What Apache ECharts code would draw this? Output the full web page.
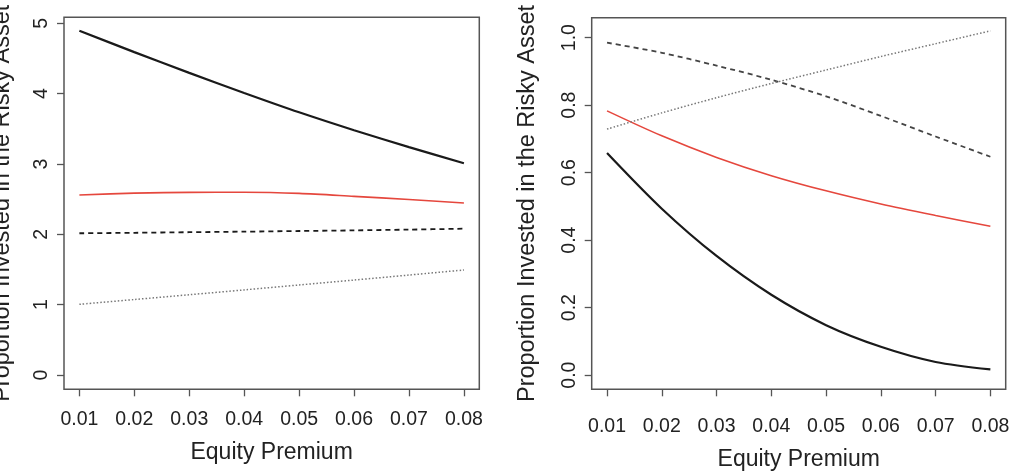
<!DOCTYPE html>
<html>
<head>
<meta charset="utf-8">
<script src="https://cdn.jsdelivr.net/npm/echarts@6/dist/echarts.min.js"></script>
<style>
html,body{margin:0;padding:0;background:#fff;}
#chart{width:1013px;height:473px;}
</style>
</head>
<body>
<div id="chart"></div>
<script>
// ---- data ----
const premium = [0.01, 0.02, 0.03, 0.04, 0.05, 0.06, 0.07, 0.08];
const xTickValues = [0.01, 0.02, 0.03, 0.04, 0.05, 0.06, 0.07, 0.08];
const leftYTicks = [0, 1, 2, 3, 4, 5];
const rightYTicks = [0.0, 0.2, 0.4, 0.6, 0.8, 1.0];

// left panel
const leftSolid  = [4.895, 4.590, 4.295, 4.010, 3.735, 3.480, 3.240, 3.010];
const leftRed    = [2.560, 2.585, 2.597, 2.598, 2.582, 2.540, 2.495, 2.445];
const leftDashed = [2.015, 2.022, 2.030, 2.038, 2.047, 2.056, 2.067, 2.080];
const leftDotted = [1.005, 1.073, 1.141, 1.210, 1.280, 1.350, 1.421, 1.493];

// right panel
const rightSolid  = [0.658, 0.493, 0.353, 0.238, 0.148, 0.084, 0.039, 0.017];
const rightRed    = [0.783, 0.709, 0.645, 0.591, 0.546, 0.507, 0.473, 0.441];
const rightDashed = [0.985, 0.955, 0.917, 0.875, 0.826, 0.768, 0.707, 0.647];
const rightDotted = [0.729, 0.777, 0.822, 0.864, 0.904, 0.944, 0.982, 1.020];

const xTitle = 'Equity Premium';
const yTitle = 'Proportion Invested in the Risky Asset';

// ---- chart ----
const FONT = '"Liberation Sans", Arial, Helvetica, sans-serif';
const TXT = '#222';
const BOX = '#555';
const pairs = (ys) => premium.map((x, i) => [x, ys[i]]);

function xAxis(gridIndex, margin, nameGap) {
  return {
    type: 'value', gridIndex, min: 0.0072, max: 0.0828,
    axisLine: {show: false, onZero: false}, splitLine: {show: false},
    axisTick: {show: true, length: 7, customValues: xTickValues, lineStyle: {color: BOX, width: 1.3}},
    axisLabel: {customValues: xTickValues, margin, fontSize: 19.5, color: TXT, fontFamily: FONT,
      formatter: v => v.toFixed(2)},
    name: xTitle, nameLocation: 'middle', nameGap,
    nameTextStyle: {fontSize: 23, color: TXT, fontFamily: FONT}
  };
}
function yAxis(gridIndex, min, max, ticks, digits, margin, nameGap) {
  return {
    type: 'value', gridIndex, min, max,
    axisLine: {show: false, onZero: false}, splitLine: {show: false},
    axisTick: {show: true, length: 7, customValues: ticks, lineStyle: {color: BOX, width: 1.3}},
    axisLabel: {customValues: ticks, rotate: 90, margin, fontSize: 19.5, color: TXT, fontFamily: FONT,
      formatter: v => v.toFixed(digits)},
    name: yTitle, nameLocation: 'middle', nameGap,
    nameTextStyle: {fontSize: 23.5, color: TXT, fontFamily: FONT}
  };
}
function line(xi, ys, color, width, type) {
  return {
    type: 'line', xAxisIndex: xi, yAxisIndex: xi, data: pairs(ys),
    showSymbol: false, symbol: 'none', smooth: 0.3, silent: true, animation: false,
    lineStyle: {color, width, type}
  };
}

const chart = echarts.init(document.getElementById('chart'), null, {renderer: 'canvas'});
chart.setOption({
  backgroundColor: '#fff',
  animation: false,
  grid: [
    {left: 64, top: 17.3, width: 415.3, height: 372, containLabel: false, outerBoundsMode: 'none',
     show: true, borderColor: BOX, borderWidth: 1.5, backgroundColor: 'transparent'},
    {left: 591.7, top: 17.7, width: 414, height: 371.6, containLabel: false, outerBoundsMode: 'none',
     show: true, borderColor: BOX, borderWidth: 1.5, backgroundColor: 'transparent'}
  ],
  xAxis: [xAxis(0, 20, 52), xAxis(1, 27, 59)],
  yAxis: [
    yAxis(0, -0.203, 5.085, leftYTicks, 0, 12, 49),
    yAxis(1, -0.042, 1.059, rightYTicks, 1, 12, 52)
  ],
  series: [
    line(0, leftSolid, '#1a1a1a', 2.2, 'solid'),
    line(0, leftRed, '#e5473d', 1.6, 'solid'),
    line(0, leftDashed, '#1a1a1a', 1.8, [5, 4]),
    line(0, leftDotted, '#777', 1.5, [1.5, 2]),
    line(1, rightSolid, '#1a1a1a', 2.2, 'solid'),
    line(1, rightRed, '#e5473d', 1.6, 'solid'),
    line(1, rightDashed, '#444', 1.8, [5, 4]),
    line(1, rightDotted, '#777', 1.5, [1.5, 2])
  ]
});
</script>
</body>
</html>
